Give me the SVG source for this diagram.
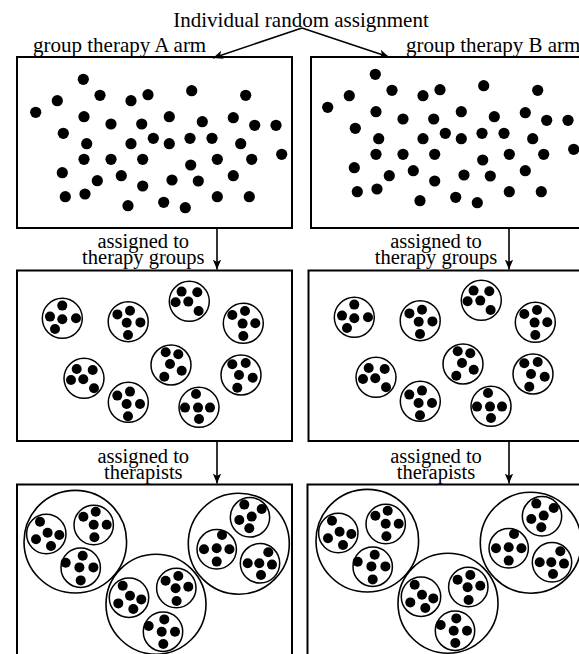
<svg xmlns="http://www.w3.org/2000/svg" xmlns:xlink="http://www.w3.org/1999/xlink" width="579" height="654" viewBox="0 0 579 654">
<style>
.box{fill:none;stroke:#000;stroke-width:2}
.ring{fill:#fff;stroke:#000;stroke-width:1.5}
.big{fill:#fff;stroke:#000;stroke-width:1.6}
.d circle{fill:#000}
.t{font-family:"Liberation Serif","Times New Roman",serif;font-size:21px;fill:#000}
.s{font-family:"Liberation Serif","Times New Roman",serif;font-size:20.5px;fill:#000;text-anchor:middle}
.c{fill:none;stroke:#000;stroke-width:1.6}
</style>
<defs>
<marker id="ah" viewBox="0 0 10 10" refX="10" refY="5" markerWidth="10" markerHeight="10" orient="auto" markerUnits="userSpaceOnUse"><path d="M0,0.8 L10,5 L0,9.2 L2.6,5 z" fill="#000"/></marker>
<g id="dots" class="d">
<circle cx="83.3" cy="79.3" r="5.6"/><circle cx="57.3" cy="100.7" r="5.6"/><circle cx="100" cy="95.3" r="5.6"/><circle cx="131" cy="100.7" r="5.6"/><circle cx="148" cy="94.7" r="5.6"/><circle cx="191.7" cy="90.7" r="5.6"/><circle cx="245.7" cy="95.3" r="5.6"/><circle cx="35.7" cy="112.3" r="5.6"/><circle cx="84" cy="116.7" r="5.6"/><circle cx="111" cy="124" r="5.6"/><circle cx="141.7" cy="124" r="5.6"/><circle cx="169.3" cy="116.7" r="5.6"/><circle cx="202.3" cy="121.7" r="5.6"/><circle cx="233.3" cy="117.7" r="5.6"/><circle cx="254.7" cy="125.3" r="5.6"/><circle cx="276" cy="125.3" r="5.6"/><circle cx="63.3" cy="133.3" r="5.6"/><circle cx="86.7" cy="143.7" r="5.6"/><circle cx="131" cy="143.7" r="5.6"/><circle cx="153.3" cy="138.3" r="5.6"/><circle cx="169.3" cy="143.7" r="5.6"/><circle cx="190" cy="138.3" r="5.6"/><circle cx="212" cy="138.3" r="5.6"/><circle cx="240.7" cy="143.7" r="5.6"/><circle cx="84" cy="159.3" r="5.6"/><circle cx="111" cy="159.3" r="5.6"/><circle cx="142.7" cy="159.3" r="5.6"/><circle cx="190.7" cy="165" r="5.6"/><circle cx="217.3" cy="159.3" r="5.6"/><circle cx="251.7" cy="159.3" r="5.6"/><circle cx="281.7" cy="154.3" r="5.6"/><circle cx="62.3" cy="172.7" r="5.6"/><circle cx="97.3" cy="180.7" r="5.6"/><circle cx="121.3" cy="175.7" r="5.6"/><circle cx="142.7" cy="186" r="5.6"/><circle cx="172" cy="180" r="5.6"/><circle cx="198.3" cy="181" r="5.6"/><circle cx="233.3" cy="175.7" r="5.6"/><circle cx="65.3" cy="196.7" r="5.6"/><circle cx="85" cy="194" r="5.6"/><circle cx="128" cy="205.7" r="5.6"/><circle cx="163.7" cy="202.3" r="5.6"/><circle cx="185.3" cy="207.7" r="5.6"/><circle cx="217.3" cy="196.7" r="5.6"/><circle cx="249.3" cy="196.7" r="5.6"/>
</g>
<g id="groups">
<g transform="translate(62.3,318.3)"><circle class="ring" r="20"/><g class="d"><circle cx="0" cy="-12.7" r="5"/><circle cx="-12.3" cy="-1.7" r="5"/><circle cx="0" cy="1" r="5"/><circle cx="13.7" cy="0" r="5"/><circle cx="-7.3" cy="10.7" r="5"/></g></g>
<g transform="translate(128.2,321.7)"><circle class="ring" r="20"/><g class="d"><circle cx="-10.8" cy="-7.3" r="5"/><circle cx="1.8" cy="-11" r="5"/><circle cx="-1.5" cy="1" r="5"/><circle cx="12.2" cy="0.7" r="5"/><circle cx="-0.2" cy="13.3" r="5"/></g></g>
<g transform="translate(189.3,301.3)"><circle class="ring" r="20"/><g class="d"><circle cx="-7.7" cy="-9.7" r="5"/><circle cx="8" cy="-9" r="5"/><circle cx="-13.7" cy="1" r="5"/><circle cx="-1" cy="0.3" r="5"/><circle cx="9.3" cy="9.7" r="5"/></g></g>
<g transform="translate(243.3,323.3)"><circle class="ring" r="20"/><g class="d"><circle cx="-11" cy="-8.3" r="5"/><circle cx="1.7" cy="-12.3" r="5"/><circle cx="-0.7" cy="0.3" r="5"/><circle cx="12" cy="0" r="5"/><circle cx="0" cy="12.7" r="5"/></g></g>
<g transform="translate(84,378.3)"><circle class="ring" r="20"/><g class="d"><circle cx="-7.3" cy="-9.3" r="5"/><circle cx="8.7" cy="-8.3" r="5"/><circle cx="-13" cy="1.7" r="5"/><circle cx="-0.7" cy="1" r="5"/><circle cx="10" cy="10" r="5"/></g></g>
<g transform="translate(171,365)"><circle class="ring" r="20"/><g class="d"><circle cx="-5.3" cy="-12.7" r="5"/><circle cx="7.3" cy="-10.7" r="5"/><circle cx="-1" cy="-1" r="5"/><circle cx="10.7" cy="5.7" r="5"/><circle cx="-6.7" cy="11.7" r="5"/></g></g>
<g transform="translate(241,375)"><circle class="ring" r="20"/><g class="d"><circle cx="-8.7" cy="-10.7" r="5"/><circle cx="4.7" cy="-12" r="5"/><circle cx="-2" cy="0" r="5"/><circle cx="11.7" cy="2.7" r="5"/><circle cx="-3.7" cy="12.7" r="5"/></g></g>
<g transform="translate(128.3,402.3)"><circle class="ring" r="20"/><g class="d"><circle cx="-11" cy="-6.7" r="5"/><circle cx="1.7" cy="-10.7" r="5"/><circle cx="-1.7" cy="1.7" r="5"/><circle cx="11.7" cy="1.7" r="5"/><circle cx="-0.3" cy="14" r="5"/></g></g>
<g transform="translate(199,407.3)"><circle class="ring" r="20"/><g class="d"><circle cx="-3" cy="-13.3" r="5"/><circle cx="-14" cy="0.3" r="5"/><circle cx="-1" cy="0.3" r="5"/><circle cx="11" cy="0.3" r="5"/><circle cx="0" cy="11.7" r="5"/></g></g>
</g>
<g id="therapists">
<circle class="big" cx="75.3" cy="541.7" r="51.3"/>
<circle class="big" cx="238.8" cy="543.7" r="50.5"/>
<circle class="big" cx="156" cy="604.2" r="50"/>
<g transform="translate(46.3,534)"><circle class="ring" r="19.7"/><g class="d"><circle cx="-6.3" cy="-12.3" r="5"/><circle cx="1.3" cy="-1.3" r="5"/><circle cx="13" cy="1" r="5"/><circle cx="-10.3" cy="5.3" r="5"/><circle cx="4.7" cy="12" r="5"/></g></g>
<g transform="translate(93.7,525)"><circle class="ring" r="19.7"/><g class="d"><circle cx="-10.3" cy="-8.3" r="5"/><circle cx="2" cy="-13.3" r="5"/><circle cx="0" cy="-0.3" r="5"/><circle cx="13" cy="-0.3" r="5"/><circle cx="0.7" cy="12.3" r="5"/></g></g>
<g transform="translate(80.7,567.7)"><circle class="ring" r="19.7"/><g class="d"><circle cx="-15" cy="-5" r="5"/><circle cx="2" cy="-12" r="5"/><circle cx="-1.3" cy="-0.3" r="5"/><circle cx="12.7" cy="-0.3" r="5"/><circle cx="0" cy="12.7" r="5"/></g></g>
<g transform="translate(129,597.7)"><circle class="ring" r="19.7"/><g class="d"><circle cx="-6.3" cy="-12" r="5"/><circle cx="1" cy="-2" r="5"/><circle cx="12.3" cy="1.7" r="5"/><circle cx="-10.7" cy="5.7" r="5"/><circle cx="4.3" cy="11.3" r="5"/></g></g>
<g transform="translate(176.3,588)"><circle class="ring" r="19.7"/><g class="d"><circle cx="-10.7" cy="-7.3" r="5"/><circle cx="2" cy="-12" r="5"/><circle cx="-0.7" cy="0.3" r="5"/><circle cx="12" cy="-1.3" r="5"/><circle cx="0.3" cy="13" r="5"/></g></g>
<g transform="translate(163,631.7)"><circle class="ring" r="19.7"/><g class="d"><circle cx="-14.3" cy="-5.7" r="5"/><circle cx="1.3" cy="-12.3" r="5"/><circle cx="-1.3" cy="0" r="5"/><circle cx="12" cy="0" r="5"/><circle cx="0.3" cy="12.3" r="5"/></g></g>
<g transform="translate(250,517.3)"><circle class="ring" r="19.7"/><g class="d"><circle cx="-5.7" cy="-12.7" r="5"/><circle cx="11.7" cy="-8.3" r="5"/><circle cx="1.7" cy="-0.7" r="5"/><circle cx="-10.7" cy="2.7" r="5"/><circle cx="-0.7" cy="11" r="5"/></g></g>
<g transform="translate(216.7,549.3)"><circle class="ring" r="19.7"/><g class="d"><circle cx="5.3" cy="-14.3" r="5"/><circle cx="-12.7" cy="0" r="5"/><circle cx="0" cy="-1" r="5"/><circle cx="12.7" cy="0" r="5"/><circle cx="0" cy="12.3" r="5"/></g></g>
<g transform="translate(260,563.3)"><circle class="ring" r="19.7"/><g class="d"><circle cx="8.3" cy="-11" r="5"/><circle cx="-12.3" cy="0" r="5"/><circle cx="-0.7" cy="0" r="5"/><circle cx="12" cy="1.3" r="5"/><circle cx="1" cy="11.7" r="5"/></g></g>
</g>
</defs>
<g id="title"><text class="t" x="301" y="27" text-anchor="middle">Individual random assignment</text></g>
<g id="arm-a-label"><text class="t" x="33" y="52">group therapy A arm</text></g>
<g id="arm-b-label"><text class="t" x="406" y="52">group therapy B arm</text></g>
<g id="a-individuals"><rect class="box" x="17" y="57" width="275" height="171"/><use xlink:href="#dots"/></g>
<g id="b-individuals"><rect class="box" x="311" y="57" width="275" height="171"/><use xlink:href="#dots" transform="translate(292,-5)"/></g>
<g id="a-groups"><rect class="box" x="17" y="270.5" width="275" height="170.5"/><use xlink:href="#groups"/></g>
<g id="b-groups"><rect class="box" x="308.5" y="270.5" width="278" height="170.5"/><use xlink:href="#groups" transform="translate(292,-1)"/></g>
<g id="a-therapists"><rect class="box" x="17" y="484.5" width="275" height="175"/><use xlink:href="#therapists"/></g>
<g id="b-therapists"><rect class="box" x="307.5" y="484.5" width="280" height="175"/><use xlink:href="#therapists" transform="translate(292,-1)"/></g>
<g id="step-labels">
<text class="s" x="143.3" y="248">assigned to</text>
<text class="s" x="143.3" y="264">therapy groups</text>
<text class="s" x="436" y="248">assigned to</text>
<text class="s" x="436" y="264">therapy groups</text>
<text class="s" x="143.3" y="462.5">assigned to</text>
<text class="s" x="143.3" y="478.5">therapists</text>
<text class="s" x="436" y="462.5">assigned to</text>
<text class="s" x="436" y="478.5">therapists</text>
</g>
<g id="connectors">
<line class="c" x1="302" y1="28" x2="213" y2="58" marker-end="url(#ah)"/>
<line class="c" x1="302" y1="28" x2="389" y2="57" marker-end="url(#ah)"/>
<line class="c" x1="217" y1="228" x2="217" y2="269.5" marker-end="url(#ah)"/>
<line class="c" x1="509" y1="228" x2="509" y2="269.5" marker-end="url(#ah)"/>
<line class="c" x1="217" y1="441" x2="217" y2="483.5" marker-end="url(#ah)"/>
<line class="c" x1="509" y1="441" x2="509" y2="483.5" marker-end="url(#ah)"/>
</g>
</svg>
